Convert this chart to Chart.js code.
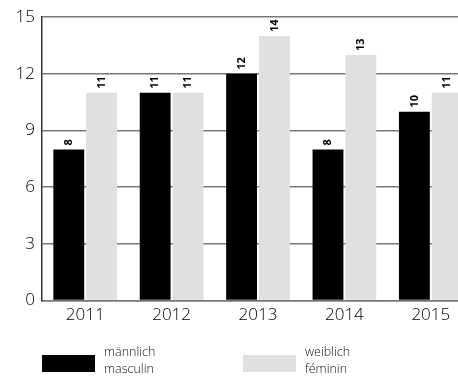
<!DOCTYPE html>
<html>
<head>
<meta charset="utf-8">
<script src="https://cdn.jsdelivr.net/npm/chart.js@4"></script>
<style>
  html, body { margin: 0; padding: 0; background: #fff; overflow: hidden; }
  #wrap { width: 476px; height: 377px; }
</style>
</head>
<body>
<div id="wrap"><canvas id="c" width="476" height="377"></canvas></div>
<script>
const years = ['2011', '2012', '2013', '2014', '2015'];
const male = [8, 11, 12, 8, 10];
const female = [11, 11, 14, 13, 11];
const maleLabel = ['männlich', 'masculin'];
const femaleLabel = ['weiblich', 'féminin'];
const yTicks = [0, 3, 6, 9, 12, 15];

const FONT = '"Open Sans", "Noto Sans", sans-serif';

// Rotated value labels above each bar
const valueLabels = {
  id: 'valueLabels',
  afterDatasetsDraw(chart) {
    const ctx = chart.ctx;
    ctx.save();
    ctx.font = 'bold 11px ' + FONT;
    ctx.fillStyle = '#000';
    ctx.textAlign = 'left';
    ctx.textBaseline = 'middle';
    chart.data.datasets.forEach((ds, di) => {
      chart.getDatasetMeta(di).data.forEach((bar, i) => {
        ctx.save();
        ctx.translate(bar.x, bar.y - 4);
        ctx.rotate(-Math.PI / 2);
        ctx.fillText(String(ds.data[i]), 0, 0);
        ctx.restore();
      });
    });
    ctx.restore();
  }
};

// Two-line legend below the plot
const legendBelow = {
  id: 'legendBelow',
  afterDraw(chart) {
    const ctx = chart.ctx;
    const items = [
      { x: 42, color: chart.data.datasets[0].backgroundColor, text: maleLabel },
      { x: 243, color: chart.data.datasets[1].backgroundColor, text: femaleLabel }
    ];
    ctx.save();
    items.forEach(it => {
      ctx.fillStyle = it.color;
      ctx.fillRect(it.x, 355, 53, 17);
      ctx.fillStyle = '#111';
      ctx.font = '300 12.5px ' + FONT;
      ctx.textBaseline = 'middle';
      ctx.textAlign = 'left';
      ctx.fillText(it.text[0], it.x + 62, 352);
      ctx.fillText(it.text[1], it.x + 62, 369);
    });
    ctx.restore();
  }
};

new Chart(document.getElementById('c'), {
  type: 'bar',
  data: {
    labels: years,
    datasets: [
      { label: maleLabel.join(' / '), data: male, backgroundColor: '#000000',
        categoryPercentage: 0.76, barPercentage: 0.94 },
      { label: femaleLabel.join(' / '), data: female, backgroundColor: '#e0e0e0',
        categoryPercentage: 0.76, barPercentage: 0.94 }
    ]
  },
  options: {
    responsive: false,
    animation: false,
    devicePixelRatio: 1,
    layout: { padding: { top: 15, right: 2, bottom: 50, left: 0 } },
    plugins: { legend: { display: false }, tooltip: { enabled: false } },
    scales: {
      x: {
        grid: { display: false, drawTicks: false },
        border: { color: '#777', width: 1.5 },
        ticks: { color: '#000', font: { family: FONT, size: 17, weight: '300' }, padding: 4 },
        afterFit(s) { s.height = 26.5; }
      },
      y: {
        min: 0, max: 15,
        afterBuildTicks(s) { s.ticks = yTicks.map(v => ({ value: v })); },
        grid: { color: '#787878', lineWidth: 1.5, drawTicks: false },
        border: { color: '#333', width: 1.5 },
        ticks: { color: '#000', font: { family: FONT, size: 17, weight: '300' }, padding: 7 },
        afterFit(s) { s.width = 42; }
      }
    }
  },
  plugins: [valueLabels, legendBelow]
});
</script>
</body>
</html>
